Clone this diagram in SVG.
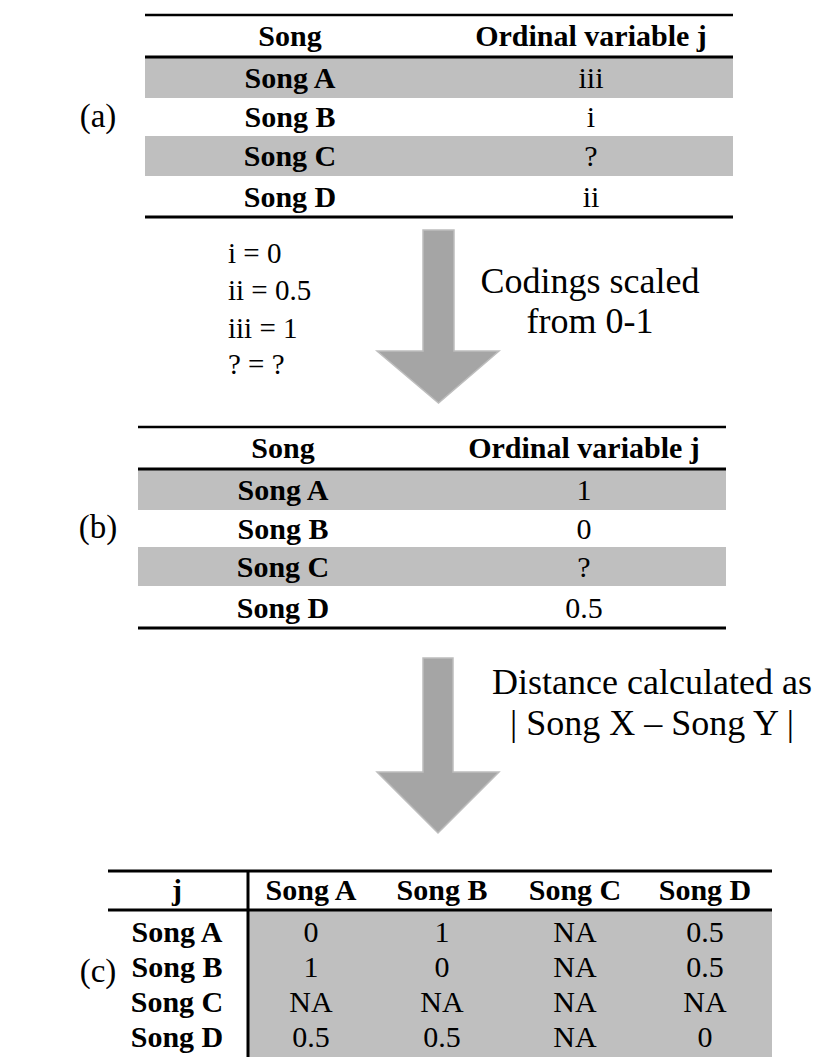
<svg xmlns="http://www.w3.org/2000/svg" width="822" height="1057" viewBox="0 0 822 1057">
<style>
.b{font-family:"Liberation Serif","Times New Roman",serif;font-weight:bold;font-size:30px;fill:#000;text-anchor:middle}
.r{font-family:"Liberation Serif","Times New Roman",serif;font-size:30px;fill:#000;text-anchor:middle}
.t{font-family:"Liberation Serif","Times New Roman",serif;font-size:29px;fill:#000}
.big{font-family:"Liberation Serif","Times New Roman",serif;font-size:36px;fill:#000;text-anchor:middle}
.lbl{font-family:"Liberation Serif","Times New Roman",serif;font-size:33px;fill:#000;text-anchor:middle}
.band{fill:#bfbfbf}
.rule{stroke:#000;stroke-width:3}
.arrow{fill:#a5a5a5;stroke:#bdbdbd;stroke-width:1.5}
</style>
<rect width="822" height="1057" fill="#fff"/>

<g id="table-a">
<rect class="band" x="145" y="58" width="588" height="40"/>
<rect class="band" x="145" y="136" width="588" height="40"/>
<line class="rule" x1="145" y1="15" x2="733" y2="15" style="stroke-width:2.5"/>
<line class="rule" x1="145" y1="57" x2="733" y2="57"/>
<line class="rule" x1="145" y1="217" x2="733" y2="217"/>
<text class="b" x="290" y="46">Song</text>
<text class="b" x="591" y="46">Ordinal variable j</text>
<text class="b" x="290" y="88">Song A</text><text class="r" x="591" y="88">iii</text>
<text class="b" x="290" y="127">Song B</text><text class="r" x="591" y="127">i</text>
<text class="b" x="290" y="166">Song C</text><text class="r" x="591" y="166">?</text>
<text class="b" x="290" y="207">Song D</text><text class="r" x="591" y="207">ii</text>
<text class="lbl" x="98" y="127">(a)</text>
</g>

<g id="coding-note">
<text class="t" x="228" y="263">i = 0</text>
<text class="t" x="228" y="300">ii = 0.5</text>
<text class="t" x="228" y="338">iii = 1</text>
<text class="t" x="228" y="374">? = ?</text>
</g>

<g id="table-b">
<rect class="band" x="138" y="469" width="588" height="41"/>
<rect class="band" x="138" y="547" width="588" height="39"/>
<line class="rule" x1="138" y1="427" x2="726" y2="427" style="stroke-width:2.5"/>
<line class="rule" x1="138" y1="469" x2="726" y2="469"/>
<line class="rule" x1="138" y1="628" x2="726" y2="628"/>
<text class="b" x="283" y="458">Song</text>
<text class="b" x="584" y="458">Ordinal variable j</text>
<text class="b" x="283" y="500">Song A</text><text class="r" x="584" y="500">1</text>
<text class="b" x="283" y="539">Song B</text><text class="r" x="584" y="539">0</text>
<text class="b" x="283" y="577">Song C</text><text class="r" x="584" y="577">?</text>
<text class="b" x="283" y="618">Song D</text><text class="r" x="584" y="618">0.5</text>
<text class="lbl" x="98" y="538">(b)</text>
</g>

<g id="table-c">
<rect class="band" x="249" y="910" width="523" height="147"/>
<line class="rule" x1="108" y1="871" x2="772" y2="871"/>
<line class="rule" x1="108" y1="910" x2="772" y2="910"/>
<line class="rule" x1="248" y1="870" x2="248" y2="1057"/>
<text class="b" x="177" y="900">j</text>
<text class="b" x="311" y="900">Song A</text>
<text class="b" x="442" y="900">Song B</text>
<text class="b" x="575" y="900">Song C</text>
<text class="b" x="705" y="900">Song D</text>
<text class="b" x="177" y="942">Song A</text>
<text class="b" x="177" y="977">Song B</text>
<text class="b" x="177" y="1012">Song C</text>
<text class="b" x="177" y="1047">Song D</text>
<text class="r" x="311" y="942">0</text><text class="r" x="442" y="942">1</text><text class="r" x="575" y="942">NA</text><text class="r" x="705" y="942">0.5</text>
<text class="r" x="311" y="977">1</text><text class="r" x="442" y="977">0</text><text class="r" x="575" y="977">NA</text><text class="r" x="705" y="977">0.5</text>
<text class="r" x="311" y="1012">NA</text><text class="r" x="442" y="1012">NA</text><text class="r" x="575" y="1012">NA</text><text class="r" x="705" y="1012">NA</text>
<text class="r" x="311" y="1047">0.5</text><text class="r" x="442" y="1047">0.5</text><text class="r" x="575" y="1047">NA</text><text class="r" x="705" y="1047">0</text>
<text class="lbl" x="98" y="982">(c)</text>
</g>

<g id="connectors">
<g id="arrow-1">
<polygon class="arrow" points="423,230 454,230 454,351 499,351 438.5,403 377,351 423,351"/>
<text class="big" x="590" y="293">Codings scaled</text>
<text class="big" x="590" y="333">from 0-1</text>
</g>
<g id="arrow-2">
<polygon class="arrow" points="423,658 453,658 453,772 499,772 438,833 377,772 423,772"/>
<text class="big" x="652" y="694">Distance calculated as</text>
<text class="big" x="652" y="735">| Song X – Song Y |</text>
</g>
</g>
</svg>
